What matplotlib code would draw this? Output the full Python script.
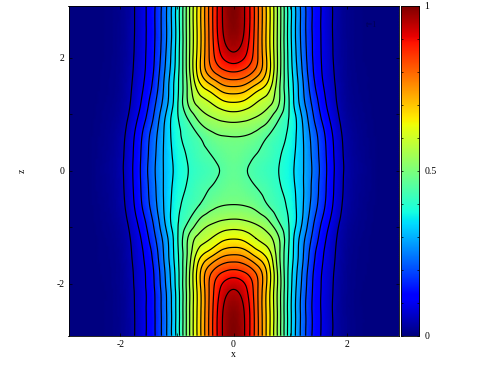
import matplotlib
matplotlib.use("Agg")
import matplotlib.pyplot as plt
import matplotlib.tri as mtri
import numpy as np

plt.rcParams['font.family'] = ['Liberation Serif', 'DejaVu Serif']

# values, one quadrant (x >= 0, z >= 0), the picture is symmetric
x_nodes = [0, 0.2, 0.4, 0.6, 0.8, 1.0, 1.2, 1.4, 1.6, 1.8, 2.0, 2.2, 2.5, 2.92]
z_nodes = [0, 0.3, 0.6, 0.9, 1.2, 1.5, 1.8, 2.1, 2.5, 2.92]
row_z00 = [.470, .455, .435, .420, .400, .366, .313, .245, .169, .094, .040, .020, .005, 0]
row_z03 = [.480, .470, .451, .433, .407, .372, .315, .240, .165, .091, .038, .018, .005, 0]
row_z06 = [.500, .497, .482, .450, .421, .383, .315, .233, .158, .085, .035, .016, .004, 0]
row_z09 = [.561, .555, .540, .510, .450, .392, .308, .212, .135, .070, .028, .013, .003, 0]
row_z12 = [.647, .635, .600, .570, .505, .390, .280, .190, .113, .056, .022, .010, .002, 0]
row_z15 = [.755, .740, .690, .635, .515, .384, .270, .169, .098, .050, .019, .008, .002, 0]
row_z18 = [.868, .850, .795, .690, .530, .375, .257, .155, .090, .045, .017, .007, .002, 0]
row_z21 = [.950, .915, .820, .685, .530, .370, .247, .149, .087, .042, .016, .006, .001, 0]
row_z25 = [.990, .945, .826, .683, .530, .366, .241, .146, .086, .040, .015, .006, .001, 0]
row_z29 = [1.00, .948, .827, .683, .530, .365, .240, .145, .086, .040, .015, .006, .001, 0]

contour_levels = np.arange(0.05, 1.0, 0.05)
x_ticks = [-2, -1, 0, 1, 2]
z_ticks = [-2, -1, 0, 1, 2]
tick_labels = ['-2', '', '0', '', '2']
bar_ticks = np.arange(0, 1.01, 0.1)
bar_labels = ['0', '', '', '', '', '0.5', '', '', '', '', '1']

quad = np.array([row_z00, row_z03, row_z06, row_z09, row_z12,
                 row_z15, row_z18, row_z21, row_z25, row_z29])
full = np.hstack([quad[:, :0:-1], quad])
full = np.vstack([full[:0:-1], full])
xs = np.array(x_nodes)
zs = np.array(z_nodes)
xs = np.concatenate([-xs[:0:-1], xs])
zs = np.concatenate([-zs[:0:-1], zs])

X, Z = np.meshgrid(xs, zs)
tri = mtri.Triangulation(X.ravel(), Z.ravel())
refiner = mtri.UniformTriRefiner(tri)
fine_tri, fine_val = refiner.refine_field(full.ravel(), subdiv=3)
fine_val = np.clip(fine_val, 0, 1)

W, H = 490, 368
fig = plt.figure(figsize=(W / 100, H / 100), dpi=100)
ax = fig.add_axes([68.5 / W, 1 - 335.7 / H, 330 / W, 330 / H])
ax.tripcolor(fine_tri, fine_val, shading='gouraud', cmap='jet', vmin=0, vmax=1)
ax.tricontour(fine_tri, fine_val, levels=contour_levels, colors='black', linewidths=0.85)
ax.set_xlim(-2.92, 2.92)
ax.set_ylim(-2.92, 2.92)
ax.set_xticks(x_ticks)
ax.set_xticklabels(tick_labels)
ax.set_yticks(z_ticks)
ax.set_yticklabels(tick_labels)
ax.tick_params(direction='in', length=2, width=0.5, top=True, right=True, labelsize=7, pad=3)
ax.set_xlabel('x', fontsize=7, labelpad=1)
ax.set_ylabel('z', fontsize=7, labelpad=21)
ax.text(372, H - 25, 't=1', transform=None, fontsize=6, color='#000050', ha='center', va='center')
for s in ax.spines.values():
    s.set_linewidth(0.6)

cax = fig.add_axes([400.5 / W, 1 - 335.7 / H, 18.5 / W, 330 / H])
grad = np.linspace(0, 1, 256)[:, None]
cax.imshow(grad, origin='lower', aspect='auto', cmap='jet', extent=[0, 1, 0, 1], vmin=0, vmax=1)
cax.set_xticks([])
cax.yaxis.tick_right()
cax.set_yticks(bar_ticks)
cax.set_yticklabels(bar_labels)
cax.tick_params(direction='in', length=1.5, width=0.5, left=True, right=True, labelsize=7, pad=4)
for s in cax.spines.values():
    s.set_linewidth(0.6)

fig.savefig('out.png', dpi=100)
plt.close(fig)
